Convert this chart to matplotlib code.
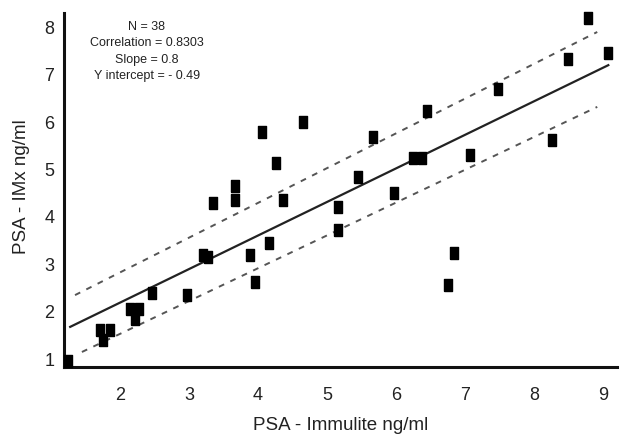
import matplotlib.pyplot as plt
import numpy as np

plt.rcParams['font.family'] = ['Liberation Sans', 'DejaVu Sans']

# Målepunkter lest av figuren
immulite = [1.25, 1.71, 1.86, 1.75, 2.15, 2.28, 2.22, 2.46, 2.97, 3.20,
            3.28, 3.88, 3.96, 4.16, 3.35, 3.67, 3.67, 4.36, 4.26, 4.06,
            4.65, 5.45, 5.67, 6.45, 5.16, 5.16, 5.97, 6.25, 6.38, 7.07,
            7.48, 8.26, 8.48, 8.78, 9.07, 6.84, 6.75]
imx = [0.96, 1.61, 1.61, 1.40, 2.05, 2.05, 1.85, 2.39, 2.35, 3.20,
       3.15, 3.19, 2.62, 3.45, 4.29, 4.65, 4.35, 4.35, 5.13, 5.79,
       6.00, 4.84, 5.68, 6.23, 4.21, 3.72, 4.50, 5.24, 5.24, 5.30,
       6.70, 5.62, 7.33, 8.20, 7.45, 3.24, 2.56]

# Regresjonslinje og konfidensgrenser (endepunkter)
fit_x = [1.28, 9.07]
fit_y = [1.68, 7.20]
upper_x = [1.35, 8.91]
upper_y = [2.35, 7.90]
lower_x = [1.45, 8.91]
lower_y = [1.15, 6.32]

x_ticks = [2, 3, 4, 5, 6, 7, 8, 9]
y_ticks = [1, 2, 3, 4, 5, 6, 7, 8]

stats_text = ["N = 38", "Correlation = 0.8303", "Slope = 0.8", "Y intercept = - 0.49"]

fig = plt.figure(figsize=(6.21, 4.34), dpi=100)
ax = fig.add_axes([0.103, 0.154, 0.891, 0.816])

# loddrett rektangel som markør
rect = [(-0.33, -0.5), (0.33, -0.5), (0.33, 0.5), (-0.33, 0.5), (-0.33, -0.5)]

ax.plot(fit_x, fit_y, color='#222222', lw=1.6, zorder=2)
ax.plot(upper_x, upper_y, color='#555555', lw=1.4, ls=(0, (3, 3.5)), zorder=2)
ax.plot(lower_x, lower_y, color='#555555', lw=1.4, ls=(0, (3, 3.5)), zorder=2)
ax.plot(immulite, imx, ls='none', marker=rect, markersize=9, color='black',
        zorder=3, clip_on=False)

ax.set_xlim(1.19, 9.2)
ax.set_ylim(0.83, 8.3)
ax.set_xticks(x_ticks)
ax.set_yticks(y_ticks)
ax.tick_params(length=0, labelsize=13, colors='#222222')
ax.tick_params(axis='x', pad=14)
ax.tick_params(axis='y', pad=7)

for s in ['top', 'right']:
    ax.spines[s].set_visible(False)
for s in ['left', 'bottom']:
    ax.spines[s].set_linewidth(2.2)
    ax.spines[s].set_color('#111111')

ax.set_xlabel("PSA - Immulite ng/ml", fontsize=13.5, color='#222222')
ax.set_ylabel("PSA - IMx ng/ml", fontsize=13.5, color='#222222')
ax.xaxis.set_label_coords(0.5, -0.164)
ax.xaxis.label.set_va('center')
ax.yaxis.set_label_coords(-0.076, 0.51)
ax.yaxis.label.set_va('center')

ax.text(2.39, 8.14, "\n".join(stats_text), ha='center', va='top',
        fontsize=9, linespacing=1.5, color='#222222')

fig.savefig("out.png", dpi=100)
